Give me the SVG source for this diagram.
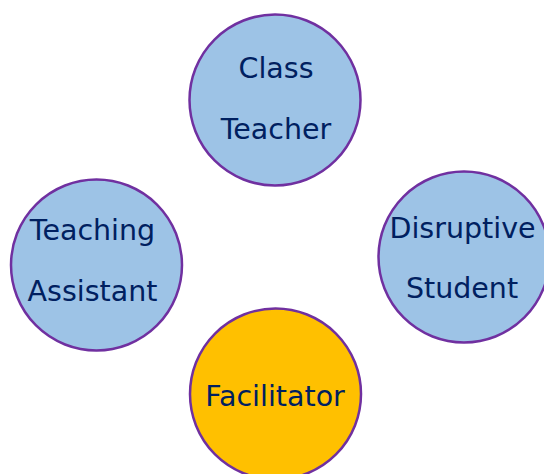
<svg xmlns="http://www.w3.org/2000/svg" width="544" height="474" viewBox="0 0 544 474">
  <style>
    .node { stroke: #7030A0; stroke-width: 2.5; }
    .role { fill: #9DC3E6; }
    .lead { fill: #FFC000; }
    .label { font-family: "DejaVu Sans", Verdana, sans-serif; font-size: 28.5px; fill: #002060; text-anchor: middle; }
  </style>
  <rect width="544" height="474" fill="#FFFFFF"/>
  <g id="connectors"/>
  <g id="class-teacher">
    <circle class="node role" cx="275" cy="100" r="85.5"/>
    <text class="label" x="276" y="78">Class</text>
    <text class="label" x="276" y="139">Teacher</text>
  </g>
  <g id="teaching-assistant">
    <circle class="node role" cx="96.5" cy="265" r="85.5"/>
    <text class="label" x="92.5" y="240">Teaching</text>
    <text class="label" x="92.5" y="301">Assistant</text>
  </g>
  <g id="disruptive-student">
    <circle class="node role" cx="464" cy="257" r="85.5"/>
    <text class="label" x="462.5" y="238">Disruptive</text>
    <text class="label" x="462" y="298">Student</text>
  </g>
  <g id="facilitator">
    <circle class="node lead" cx="275.5" cy="394" r="85.5"/>
    <text class="label" x="275" y="406">Facilitator</text>
  </g>
</svg>
